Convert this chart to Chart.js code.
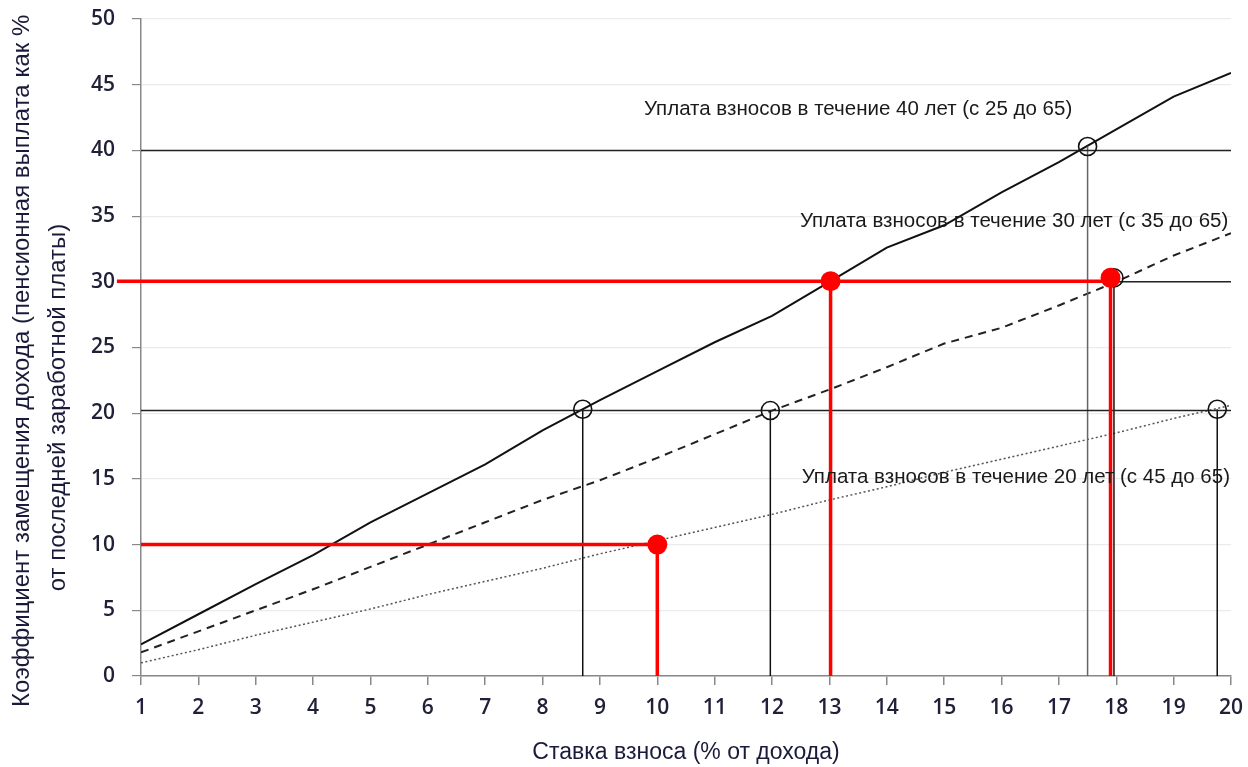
<!DOCTYPE html>
<html>
<head>
<meta charset="utf-8">
<script src="https://cdn.jsdelivr.net/npm/chart.js@4.4.1/dist/chart.umd.min.js"></script>
<style>
  html, body { margin: 0; background: #fff; }
  #wrap { width: 1248px; height: 767px; }
</style>
</head>
<body>
<div id="wrap"><canvas id="chart"></canvas></div>
<script>
// ставка взноса, % от дохода
const rates = [1, 2, 3, 4, 5, 6, 7, 8, 9, 10, 11, 12, 13, 14, 15, 16, 17, 18, 19, 20];
// коэффициент замещения по трём срокам уплаты
const pay40 = [2.4, 4.7, 7.0, 9.2, 11.7, 13.9, 16.1, 18.7, 21.0, 23.2, 25.4, 27.4, 30.0, 32.6, 34.3, 36.8, 39.1, 41.6, 44.1, 45.9];
const pay30 = [1.8, 3.4, 5.0, 6.6, 8.3, 10.0, 11.7, 13.4, 14.9, 16.6, 18.4, 20.2, 21.8, 23.5, 25.3, 26.5, 28.2, 30.0, 32.0, 33.7];
const pay20 = [1.0, 2.0, 3.1, 4.1, 5.1, 6.2, 7.2, 8.2, 9.3, 10.3, 11.3, 12.3, 13.4, 14.4, 15.5, 16.5, 17.5, 18.5, 19.6, 20.6];

// целевые уровни (чёрные горизонтали)
const targetLevels = [40, 30, 20.2];
// точки пересечения (пустые кружки)
const crossX = [8.7, 11.97, 17.5, 17.96, 19.76];
const crossY = [20.3, 20.2, 40.3, 30.3, 20.3];
// выделенные примеры (красные точки)
const redX = [10, 13.02, 17.9];
const redY = [10, 30.05, 30.3];
// красные горизонтали: уровень, начало, конец
const redLevels = [10, 30.05];
const redFrom = [1, 0.58];
const redTo = [10, 17.9];

// подписи кривых
const noteText = [
  'Уплата взносов в течение 40 лет (с 25 до 65)',
  'Уплата взносов в течение 30 лет (с 35 до 65)',
  'Уплата взносов в течение 20 лет (с 45 до 65)'
];
const noteX = [13.5, 16.22, 16.25];
const noteY = [43.1, 34.6, 15.15];

const xyPairs = (xs, ys) => xs.map((x, i) => ({ x, y: ys[i] }));
const seg = (x1, y1, x2, y2) => [{ x: x1, y: y1 }, { x: x2, y: y2 }];

const datasets = [];

// кривые
datasets.push({ data: xyPairs(rates, pay40), showLine: true, borderColor: '#111', borderWidth: 2, pointRadius: 0, order: 5 });
datasets.push({ data: xyPairs(rates, pay30), showLine: true, borderColor: '#222', borderWidth: 2, borderDash: [8, 6], pointRadius: 0, order: 5 });
datasets.push({ data: xyPairs(rates, pay20), showLine: true, borderColor: '#555', borderWidth: 1.5, borderDash: [2, 2.5], pointRadius: 0, order: 5 });

// чёрные горизонтали
targetLevels.forEach(v => {
  datasets.push({ data: seg(1, v, 20, v), showLine: true, borderColor: '#222', borderWidth: 1.5, pointRadius: 0, order: 4 });
});

// чёрные вертикали к точкам пересечения
crossX.forEach((x, i) => {
  datasets.push({ data: seg(x, 0, x, crossY[i]), showLine: true, borderColor: i === 2 ? '#666' : '#111', borderWidth: 1.5, pointRadius: 0, order: 4 });
});

// пустые кружки
datasets.push({ data: xyPairs(crossX, crossY), showLine: false, pointRadius: 9, pointBorderWidth: 1.6, pointBorderColor: '#111', pointBackgroundColor: 'rgba(0,0,0,0)', order: 3 });

// красные линии
redLevels.forEach((v, i) => {
  datasets.push({ data: seg(redFrom[i], v, redTo[i], v), showLine: true, borderColor: '#ff0000', borderWidth: 3.5, pointRadius: 0, clip: false, order: 2 });
});
redX.forEach((x, i) => {
  datasets.push({ data: seg(x, 0, x, redY[i]), showLine: true, borderColor: '#ff0000', borderWidth: 3.5, pointRadius: 0, order: 2 });
});

// красные точки
datasets.push({ data: xyPairs(redX, redY), showLine: false, pointRadius: 10, pointBorderWidth: 0, pointBackgroundColor: '#ff0000', order: 1 });

const notesPlugin = {
  id: 'notes',
  afterDatasetsDraw(chart) {
    const { ctx, scales: { x, y } } = chart;
    ctx.save();
    ctx.font = '20.5px "Liberation Sans", Arial, sans-serif';
    ctx.fillStyle = '#1a1a1a';
    ctx.textAlign = 'center';
    ctx.textBaseline = 'middle';
    noteText.forEach((t, i) => {
      ctx.fillText(t, x.getPixelForValue(noteX[i]), y.getPixelForValue(noteY[i]));
    });
    ctx.restore();
  }
};

const tickFont = { family: '"Open Sans", "DejaVu Sans", sans-serif', size: 21, weight: '600' };
const tickColor = '#202038';
const titleColor = '#1a1a3a';

// хвостовые пробелы сдвигают строки заголовка вниз, как в оригинале
const yTitle = [
  'Коэффициент замещения дохода (пенсионная выплата как %' + ' '.repeat(4),
  'от последней заработной платы)' + ' '.repeat(18)
];

new Chart(document.getElementById('chart'), {
  type: 'scatter',
  data: { datasets },
  plugins: [notesPlugin],
  options: {
    responsive: true,
    maintainAspectRatio: false,
    animation: false,
    layout: { padding: { top: 19, right: 17, left: 0, bottom: 0 } },
    plugins: { legend: { display: false }, tooltip: { enabled: false } },
    scales: {
      x: {
        type: 'linear',
        min: 1, max: 20,
        ticks: { stepSize: 1, font: tickFont, color: tickColor, padding: 10 },
        grid: { drawOnChartArea: false, color: '#888', tickLength: 9, lineWidth: 1.5 },
        border: { color: '#888', width: 1.5 },
        title: {
          display: true,
          text: 'Ставка взноса (% от дохода)',
          font: { family: '"Liberation Sans", Arial, sans-serif', size: 23 },
          color: titleColor,
          padding: { top: 0, bottom: 1 }
        },
        afterFit: s => { s.height = 91; s.paddingRight = 0; s.paddingLeft = 0; }
      },
      y: {
        min: 0, max: 50,
        ticks: { stepSize: 5, font: tickFont, color: tickColor, padding: 17 },
        grid: { color: '#ebebeb', tickColor: '#888', tickLength: 9, lineWidth: 1.2 },
        border: { color: '#888', width: 1.5 },
        title: {
          display: true,
          text: yTitle,
          font: { family: '"Liberation Sans", Arial, sans-serif', size: 24, lineHeight: 36 / 24 },
          color: titleColor,
          padding: { top: 4, bottom: 0 }
        },
        afterFit: s => { s.width = 141; s.paddingTop = 0; s.paddingBottom = 0; }
      }
    }
  }
});
</script>
</body>
</html>
